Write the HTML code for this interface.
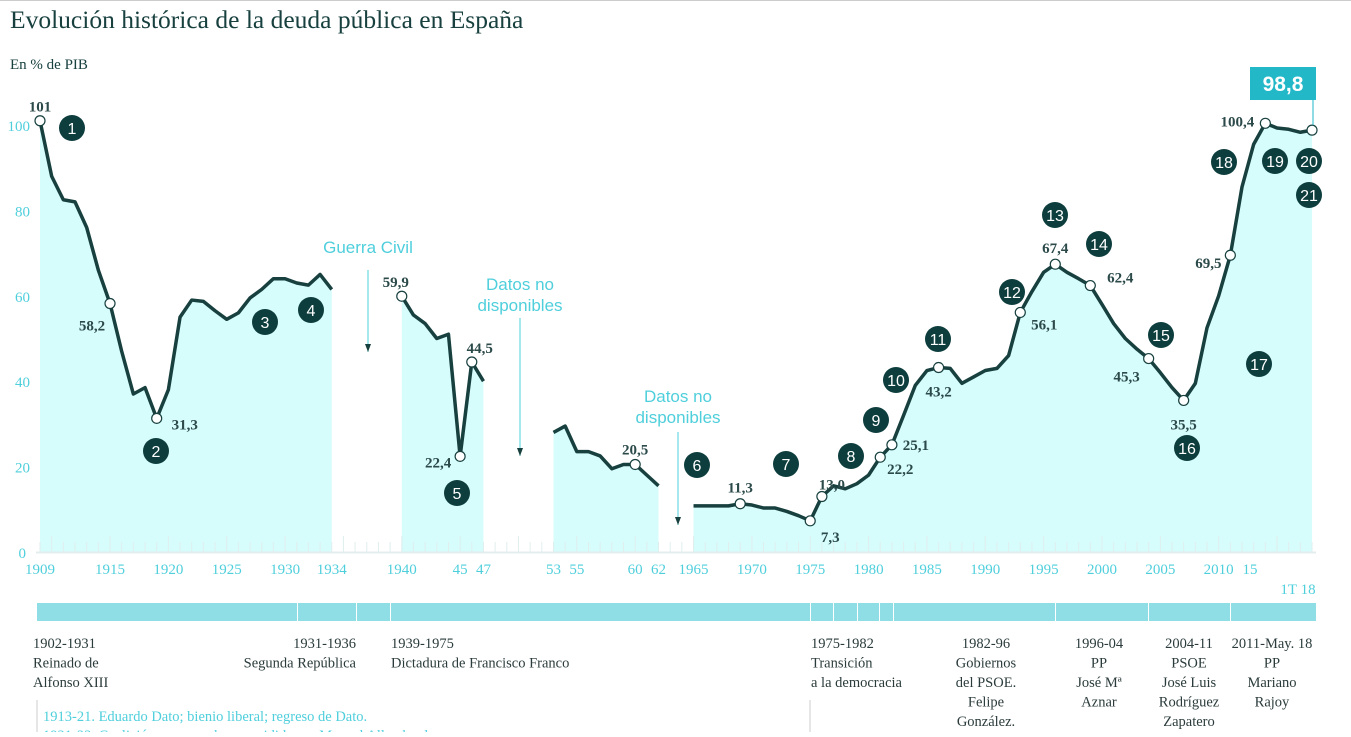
<!DOCTYPE html>
<html><head><meta charset="utf-8"><style>
body{margin:0;background:#fff;width:1351px;height:732px;overflow:hidden;font-family:"Liberation Serif",serif}
</style></head><body>
<svg id="c" width="1351" height="732" xmlns="http://www.w3.org/2000/svg">
<line x1="0" y1="0.5" x2="1351" y2="0.5" stroke="#ccc"/>
<text x="10" y="28" font-size="25.5" fill="#17403f">Evolución histórica de la deuda pública en España</text>
<text x="10" y="69" font-size="15" fill="#17403f">En % de PIB</text>
</svg>
<script>
const segYears=[[1909,1910,1911,1912,1913,1914,1915,1916,1917,1918,1919,1920,1921,1922,1923,1924,1925,1926,1927,1928,1929,1930,1931,1932,1933,1934],
[1940,1941,1942,1943,1944,1945,1946,1947],
[1953,1954,1955,1956,1957,1958,1959,1960,1961,1962],
[1965,1966,1967,1968,1969,1970,1971,1972,1973,1974,1975,1976,1977,1978,1979,1980,1981,1982,1983,1984,1985,1986,1987,1988,1989,1990,1991,1992,1993,1994,1995,1996,1997,1998,1999,2000,2001,2002,2003,2004,2005,2006,2007,2008,2009,2010,2011,2012,2013,2014,2015,2016,2017,2018]];
const segValues=[[101,88,82.5,82,76,66,58.2,47,37,38.5,31.3,38,55,59,58.7,56.5,54.5,56,59.5,61.5,64,64,63,62.5,65,61.5],
[59.9,55.5,53.5,50,51,22.4,44.5,40],
[28,29.5,23.5,23.5,22.5,19.5,20.5,20.5,18,15.5],
[10.8,10.8,10.8,10.8,11.3,11,10.3,10.3,9.5,8.5,7.3,13.0,15.5,14.8,16,18,22.2,25.1,32,39,42.5,43.2,43,39.5,41,42.5,43,46,56.1,61,65.5,67.4,65.5,64,62.4,58,53.5,50,47.5,45.3,42,38.5,35.5,39.5,52.5,60,69.5,85.5,95.5,100.4,99.3,99,98.3,98.8]];
const markYears=[1909,1915,1919,1940,1945,1946,1960,1969,1975,1976,1981,1982,1986,1993,1996,1999,2004,2007,2011,2014,2018];
const markLabels=["101","58,2","31,3","59,9","22,4","44,5","20,5","11,3","7,3","13,0","22,2","25,1","43,2","56,1","67,4","62,4","45,3","35,5","69,5","100,4",""];
const labelOff=[[0,-14],[-18,22],[28,6],[-6,-14],[-22,6],[8,-14],[0,-15],[0,-16],[20,16],[10,-12],[20,12],[24,0],[0,24],[24,12],[0,-16],[30,-8],[-22,18],[0,24],[-22,8],[-28,-2],[0,0]];
const yTicks=[0,20,40,60,80,100];
const xTickLabels=[[1909,"1909"],[1915,"1915"],[1920,"1920"],[1925,"1925"],[1930,"1930"],[1934,"1934"],[1940,"1940"],[1945,"45"],[1947,"47"],[1953,"53"],[1955,"55"],[1960,"60"],[1962,"62"],[1965,"1965"],[1970,"1970"],[1975,"1975"],[1980,"1980"],[1985,"1985"],[1990,"1990"],[1995,"1995"],[2000,"2000"],[2005,"2005"],[2010,"2010"]];
const badges=[[1,72,128],[2,156,451],[3,265,322],[4,311,310],[5,457,493],[6,697,465],[7,786,464],[8,851,456],[9,876,420],[10,896,380],[11,938,339],[12,1012,292],[13,1055,215],[14,1099,244],[15,1161,335],[16,1187,448],[17,1259,364],[18,1224,162],[19,1275,161],[20,1309,161],[21,1309,195]];
const X=y=>40+(y-1909)*11.67, Y=v=>552-v*4.27;
const svg=document.getElementById('c'),NS="http://www.w3.org/2000/svg";
function mk(t,a,txt){const e=document.createElementNS(NS,t);for(const k in a)e.setAttribute(k,a[k]);if(txt!==undefined)e.textContent=txt;svg.appendChild(e);return e;}
segYears.forEach((ys,i)=>{const vs=segValues[i];let d=`M${X(ys[0])},${Y(0)}`;ys.forEach((y,j)=>d+=`L${X(y)},${Y(vs[j])}`);d+=`L${X(ys[ys.length-1])},${Y(0)}Z`;
const e=mk('path',{d,fill:'#d6fcfc'});

});
for(let y=1909;y<=2018;y++){const e=mk('line',{x1:X(y),x2:X(y),y1:y%5==0?536:542,y2:552,stroke:'#e0eeee','stroke-width':1});

}
const ax=mk('line',{x1:36,x2:1316,y1:552.5,y2:552.5,stroke:'#e4eded','stroke-width':2});


yTicks.forEach(v=>{const e=mk('text',{x:v==0?26:30,y:Y(v)+6,'font-size':15,fill:'#4fcfdc','text-anchor':'end'},v);

});
xTickLabels.forEach(([y,l])=>{const e=mk('text',{x:X(y),y:574,'font-size':15,fill:'#4fcfdc','text-anchor':'middle'},l);

});
[["15",1250,574],["1T 18",1298,594]].forEach(([l,x,y])=>{const e=mk('text',{x,y,'font-size':15,fill:'#4fcfdc','text-anchor':'middle'},l);

});
segYears.forEach((ys,i)=>{const vs=segValues[i];const d=ys.map((y,j)=>(j?'L':'M')+X(y)+','+Y(vs[j])).join('');
const e=mk('path',{d,fill:'none',stroke:'#17403f','stroke-width':3.5,'stroke-linejoin':'round'});

});
[["Guerra Civil",368,253,270,352],["Datos no",520,290,0,0],["disponibles",520,311,318,456],["Datos no",678,402,0,0],["disponibles",678,423,432,525]].forEach(([t,x,y,a1,a2])=>{
const e=mk('text',{x,y,'font-size':17,fill:'#4fcfdc','text-anchor':'middle','font-family':'Liberation Sans, sans-serif'},t);


if(a2){const l=mk('line',{x1:x,x2:x,y1:a1,y2:a2,stroke:'#4fcfdc','stroke-width':1});


const p=mk('path',{d:`M${x-3},${a2-8}L${x+3},${a2-8}L${x},${a2}Z`,fill:'#17403f'});

}});
const allY=segYears.flat(),allV=segValues.flat();
markYears.forEach((y,i)=>{const v=allV[allY.indexOf(y)];
const c=mk('circle',{cx:X(y),cy:Y(v),r:5,fill:'#fff',stroke:'#17403f','stroke-width':1.2});


if(markLabels[i]){const t=mk('text',{x:X(y)+labelOff[i][0],y:Y(v)+labelOff[i][1]+5,'font-size':15,'font-weight':'bold',fill:'#2c4a4a','text-anchor':'middle'},markLabels[i]);

}});
const lv=allV[allV.length-1];
const bl=mk('line',{x1:1313,x2:1313,y1:100,y2:Y(lv)-5,stroke:'#22b8c8','stroke-width':1});


const br=mk('rect',{x:1250,y:67,width:66,height:33,fill:'#22b8c8'});


const bt=mk('text',{x:1283,y:91,'font-size':21,'font-weight':'bold',fill:'#fff','text-anchor':'middle','font-family':'Liberation Sans, sans-serif'},lv.toFixed(1).replace('.',','));


badges.forEach(([n,x,y])=>{const c=mk('circle',{cx:x,cy:y,r:13,fill:'#0d3d3d'});


const t=mk('text',{x,y:y+6,'font-size':16,fill:'#fff','text-anchor':'middle','font-family':'Liberation Sans, sans-serif'},n);

});
const cuts=[37,297,356,390,810,833,857,879,893,1055,1148,1230,1316];
for(let i=0;i<cuts.length-1;i++){const r=mk('rect',{x:cuts[i]+(i?1:0),y:603,width:cuts[i+1]-cuts[i]-(i?1:0),height:18,fill:'#8fdee6'});

}
const per=[[33,"start",["1902-1931","Reinado de","Alfonso XIII"]],[356,"end",["1931-1936","Segunda República"]],[391,"start",["1939-1975","Dictadura de Francisco Franco"]],[811,"start",["1975-1982","Transición","a la democracia"]],[986,"middle",["1982-96","Gobiernos","del PSOE.","Felipe","González."]],[1099,"middle",["1996-04","PP","José Mª","Aznar"]],[1189,"middle",["2004-11","PSOE","José Luis","Rodríguez","Zapatero"]],[1272,"middle",["2011-May. 18","PP","Mariano","Rajoy"]]];
per.forEach(([x,a,lines])=>lines.forEach((l,j)=>{const t=mk('text',{x,y:648+j*19.5,'font-size':14.5,fill:'#2b3b3b','text-anchor':a},l);

}));
[[37,700,732],[810,700,732]].forEach(([x,a,b])=>{const l=mk('line',{x1:x,x2:x,y1:a,y2:b,stroke:'#ccc'});

});
const n1=mk('text',{x:43,y:721,'font-size':14.5,fill:'#4fcfdc'},"1913-21. Eduardo Dato; bienio liberal; regreso de Dato.");


const n2=mk('text',{x:43,y:740,'font-size':14.5,fill:'#4fcfdc'},"1921-23. Coalición conservadora presidida por Manuel Allendesalazar");


</script>
</body></html>
